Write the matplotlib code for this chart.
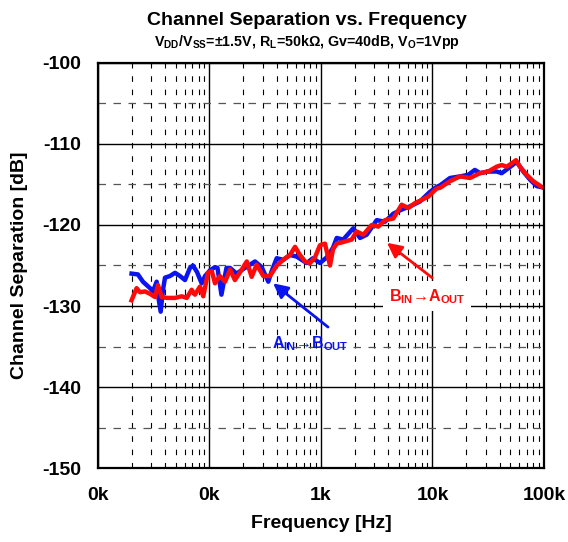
import matplotlib
matplotlib.use('Agg')
import matplotlib.pyplot as plt
from matplotlib.ticker import FixedLocator, FuncFormatter, NullFormatter

plt.rcParams['font.family'] = ['Liberation Sans', 'DejaVu Sans']
plt.rcParams['font.weight'] = 'bold'
plt.rcParams['axes.unicode_minus'] = False
plt.rcParams['mathtext.fontset'] = 'custom'
plt.rcParams['mathtext.rm'] = 'Liberation Sans:bold'
plt.rcParams['mathtext.it'] = 'Liberation Sans:bold'
plt.rcParams['mathtext.bf'] = 'Liberation Sans:bold'

# A_IN -> B_OUT (blue)
freq_ab = [20, 22.8, 25.3, 29.3, 31.1, 33.6, 34.5, 36.5, 38.3, 39.9,
           44.2, 49.1, 54.4, 60.3, 66.8, 71.1, 77.3, 85.1, 91.2, 101,
           112, 118, 128, 142, 153, 175, 208, 256, 294, 337,
           361, 401, 459, 527, 605, 671, 745, 847, 979, 1125,
           1282, 1384, 1585, 1950, 2238, 2570, 3162, 3750, 4450, 5290,
           6280, 7720, 9500, 10900, 11700, 14350, 17650, 20950, 24000, 26700,
           31600, 37650, 41800, 47900, 56900, 65200, 74900, 86000, 100000]
sep_ab = [-126.0, -126.1, -127.0, -127.8, -128.2, -127.0, -128.6, -130.7, -128.0, -126.5,
          -126.3, -125.9, -126.3, -126.8, -125.3, -125.0, -125.8, -127.2, -126.3, -125.6,
          -125.2, -125.3, -128.6, -125.3, -125.3, -126.0, -125.3, -124.5, -125.2, -127.0,
          -125.7, -124.1, -124.3, -123.7, -123.9, -124.3, -124.7, -124.1, -124.7, -124.0,
          -122.8, -121.6, -121.8, -120.4, -121.6, -121.2, -119.4, -119.6, -118.6, -118.1,
          -117.7, -117.1, -115.9, -115.3, -115.1, -114.2, -114.0, -113.8, -113.2, -113.6,
          -113.4, -113.4, -113.6, -113.0, -112.2, -113.4, -114.4, -115.2, -115.4]

# B_IN -> A_OUT (red)
freq_ba = [20, 22.2, 23.8, 26.4, 29.3, 32.5, 34.5, 37.3, 41.3, 49.1,
           56.3, 62.5, 69.2, 74.1, 82.2, 87.9, 97, 105, 112, 124,
           138, 153, 169, 195, 216, 239, 265, 304, 349, 401,
           459, 527, 585, 648, 719, 797, 883, 979, 1086, 1205,
           1282, 1384, 1585, 1884, 2090, 2395, 2850, 3266, 3750, 4450,
           5290, 6070, 6970, 8000, 9160, 10900, 11700, 14350, 17650, 21700,
           26700, 31600, 37650, 41800, 46300, 51300, 56100, 60900, 70000, 80200,
           95300, 100000]
sep_ba = [-129.3, -127.8, -128.3, -128.2, -128.5, -128.9, -127.4, -128.9, -129.0, -129.0,
          -128.8, -129.0, -128.0, -128.6, -127.6, -128.8, -125.9, -125.7, -127.2, -126.3,
          -127.0, -125.5, -126.8, -125.5, -124.5, -126.4, -124.9, -126.3, -126.3, -125.0,
          -124.3, -123.7, -122.7, -123.7, -124.5, -124.7, -124.0, -122.5, -122.3, -125.0,
          -123.0, -122.3, -122.1, -121.8, -120.8, -121.2, -120.0, -120.2, -119.4, -119.2,
          -117.5, -117.9, -117.3, -116.9, -116.5, -115.5, -115.4, -114.6, -114.0, -114.2,
          -113.6, -113.4, -112.8, -112.6, -112.8, -112.4, -112.0, -112.8, -113.8, -114.6,
          -115.3, -115.4]

x_major = [10, 100, 1000, 10000, 100000]
x_minor = [m * d for d in [10, 100, 1000, 10000] for m in range(2, 10)]
y_major = [-150, -140, -130, -120, -110, -100]
y_minor = [-145, -135, -125, -115, -105]

blue = '#0a14f0'
red = '#ff0a0a'

fig = plt.figure(figsize=(5.68, 5.42), dpi=100)
ax = fig.add_axes([0.1725, 0.1365, 0.7852, 0.7473])

ax.set_xscale('log')
ax.set_xlim(10, 100000)
ax.set_ylim(-150, -100)

ax.xaxis.set_major_locator(FixedLocator(x_major))
ax.xaxis.set_minor_locator(FixedLocator(x_minor))
ax.xaxis.set_major_formatter(FuncFormatter(lambda v, p: '%.0fk' % (v / 1000)))
ax.xaxis.set_minor_formatter(NullFormatter())
ax.yaxis.set_major_locator(FixedLocator(y_major))
ax.yaxis.set_minor_locator(FixedLocator(y_minor))

ax.grid(which='major', color='black', linestyle='-', linewidth=1.0)
ax.grid(which='minor', axis='x', color='black', linestyle=(0, (5, 7)), linewidth=0.8)
ax.grid(which='minor', axis='y', color='#555555', linestyle=(0, (6, 6)), linewidth=0.9)
ax.tick_params(which='both', length=0, labelsize=14)
ax.tick_params(axis='x', pad=14)
ax.tick_params(axis='y', pad=12)
for lbl in ax.get_xticklabels() + ax.get_yticklabels():
    lbl.set_fontweight('bold')
for sp in ax.spines.values():
    sp.set_linewidth(1.6)

ax.plot(freq_ab, sep_ab, color=blue, linewidth=3.2)
ax.plot(freq_ba, sep_ba, color=red, linewidth=3.2)

# annotations
ax.annotate('', xy=(372, -127.2), xytext=(1156, -132.6),
            arrowprops=dict(arrowstyle='-|>', color=blue, lw=2, mutation_scale=22,
                            shrinkA=0, shrinkB=0))
ax.text(796, -134.7, 'A$_{IN}$→B$_{OUT}$', color=blue, fontsize=11.5,
        fontweight='bold', ha='center', va='center')
ax.annotate('', xy=(3908, -122.2), xytext=(9910, -126.5),
            arrowprops=dict(arrowstyle='-|>', color=red, lw=2, mutation_scale=22,
                            shrinkA=0, shrinkB=0))
ax.text(8930, -128.8, 'B$_{IN}$→A$_{OUT}$', color=red, fontsize=11.5,
        fontweight='bold', ha='center', va='center',
        bbox=dict(boxstyle='square,pad=0.35', fc='white', ec='none'))

ax.set_xlabel('Frequency [Hz]', fontsize=14, fontweight='bold', va='center')
ax.xaxis.set_label_coords(0.5, -0.136)
ax.set_ylabel('Channel Separation [dB]', fontsize=14, fontweight='bold', va='center')
ax.yaxis.set_label_coords(-0.175, 0.5)

fig.text(0.54, 0.962, 'Channel Separation vs. Frequency', ha='center', va='center',
         fontsize=14, fontweight='bold')
fig.text(0.54, 0.922, 'V$_{DD}$/V$_{SS}$=±1.5V, R$_{L}$=50kΩ, Gv=40dB, V$_{O}$=1Vpp',
         ha='center', va='center', fontsize=10.3, fontweight='bold')

fig.savefig('out.png', dpi=100)
